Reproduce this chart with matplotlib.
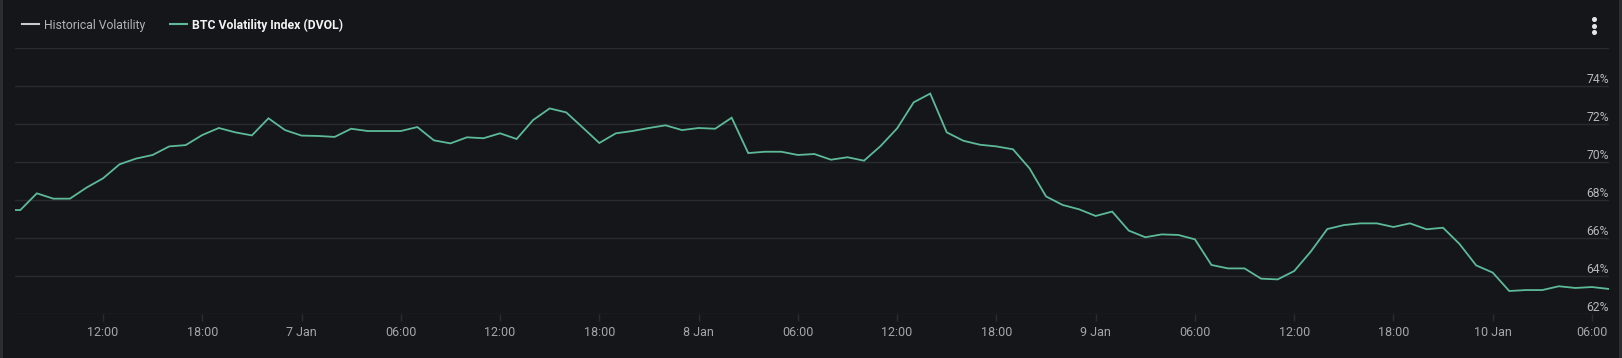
import matplotlib
matplotlib.use('Agg')
import matplotlib.pyplot as plt
import pandas as pd
from matplotlib.lines import Line2D

# ---- data ----
start_time = '2024-01-06 06:00'
dvol = [67.47, 67.47, 68.35, 68.07, 68.07, 68.65, 69.14, 69.88, 70.18, 70.37,
        70.82, 70.89, 71.42, 71.79, 71.56, 71.40, 72.30, 71.68, 71.39, 71.37,
        71.32, 71.75, 71.63, 71.63, 71.63, 71.84, 71.14, 70.98, 71.30, 71.25,
        71.51, 71.21, 72.21, 72.82, 72.61, 71.81, 71.00, 71.51, 71.63, 71.79,
        71.93, 71.68, 71.79, 71.75, 72.33, 70.47, 70.54, 70.54, 70.37, 70.42,
        70.12, 70.25, 70.07, 70.84, 71.77, 73.14, 73.60, 71.56, 71.12, 70.91,
        70.82, 70.67, 69.67, 68.19, 67.74, 67.51, 67.16, 67.39, 66.39, 66.04,
        66.19, 66.16, 65.93, 64.58, 64.40, 64.40, 63.86, 63.82, 64.26, 65.28,
        66.47, 66.68, 66.77, 66.77, 66.58, 66.77, 66.46, 66.54, 65.68, 64.56,
        64.18, 63.21, 63.26, 63.26, 63.46, 63.37, 63.42, 63.32]
tick_times = pd.date_range('2024-01-06 12:00', '2024-01-10 06:00', freq='6h')
tick_labels = ['12:00', '18:00', '7 Jan', '06:00', '12:00', '18:00', '8 Jan', '06:00',
               '12:00', '18:00', '9 Jan', '06:00', '12:00', '18:00', '10 Jan', '06:00']
y_ticks = [62, 64, 66, 68, 70, 72, 74, 76]
y_labels = ['62%', '64%', '66%', '68%', '70%', '72%', '74%', '']
legend_labels = ['Historical Volatility', 'BTC Volatility Index (DVOL)']

times = pd.date_range(start_time, periods=len(dvol), freq='h')

BG = '#151619'
GRID = '#2a2b2f'
TEAL = '#5dba98'

plt.rcParams['font.family'] = ['Roboto', 'DejaVu Sans']

W, H = 1622, 358
fig = plt.figure(figsize=(W / 100, H / 100), dpi=100, facecolor=BG)
ax = fig.add_axes([15 / W, 1 - 314 / H, (1609 - 15) / W, (314 - 48) / H])
ax.set_facecolor(BG)

ax.plot(times, dvol, color=TEAL, lw=1.3, solid_joinstyle='miter', zorder=3)

ax.set_xlim(pd.Timestamp(start_time) + pd.Timedelta(hours=0.68),
            times[-1] + pd.Timedelta(hours=0.03))
ax.set_ylim(62, 76)

ax.set_xticks(tick_times)
ax.set_xticklabels(tick_labels)
ax.set_yticks(y_ticks)
ax.set_yticklabels(y_labels)

for s in ax.spines.values():
    s.set_visible(False)
ax.grid(axis='y', color=GRID, lw=1)
ax.tick_params(axis='x', colors=GRID, length=5, width=1, direction='out',
               labelcolor='#a3a6ab', labelsize=9, pad=4)
ax.yaxis.set_ticks_position('right')
ax.tick_params(axis='y', length=0, pad=0, labelcolor='#b4b7bc', labelsize=8.7,
               labelright=True, labelleft=False)
for lab in ax.get_yticklabels():
    lab.set_horizontalalignment('right')
    lab.set_verticalalignment('bottom')

# legend
handles = [Line2D([], [], color='#c9cacc', lw=1.5),
           Line2D([], [], color=TEAL, lw=1.5)]
leg = fig.legend(handles, legend_labels, loc='center left',
                 bbox_to_anchor=(22 / W, 1 - 25 / H), ncol=2, frameon=False,
                 fontsize=8.8, handlelength=1.4, handletextpad=0.4,
                 columnspacing=2.0, borderaxespad=0, borderpad=0)
txts = leg.get_texts()
txts[0].set_color('#b0b3b8')
txts[1].set_color('#f2f2f2')
txts[1].set_fontweight('bold')

# menu dots
fig.add_artist(Line2D([1594 / W] * 3, [1 - 19.3 / H, 1 - 25.7 / H, 1 - 32 / H],
                      transform=fig.transFigure, marker='o', markersize=2.6,
                      linestyle='none', color='#e6e6e6'))
# side borders
fig.add_artist(plt.Rectangle((0, 0), 3.5 / W, 1, transform=fig.transFigure,
                             color='#2c2d31', lw=0))
fig.add_artist(plt.Rectangle((1619 / W, 0), 3 / W, 1, transform=fig.transFigure,
                             color='#2c2d31', lw=0))

fig.savefig('out.png', dpi=100, facecolor=BG)
